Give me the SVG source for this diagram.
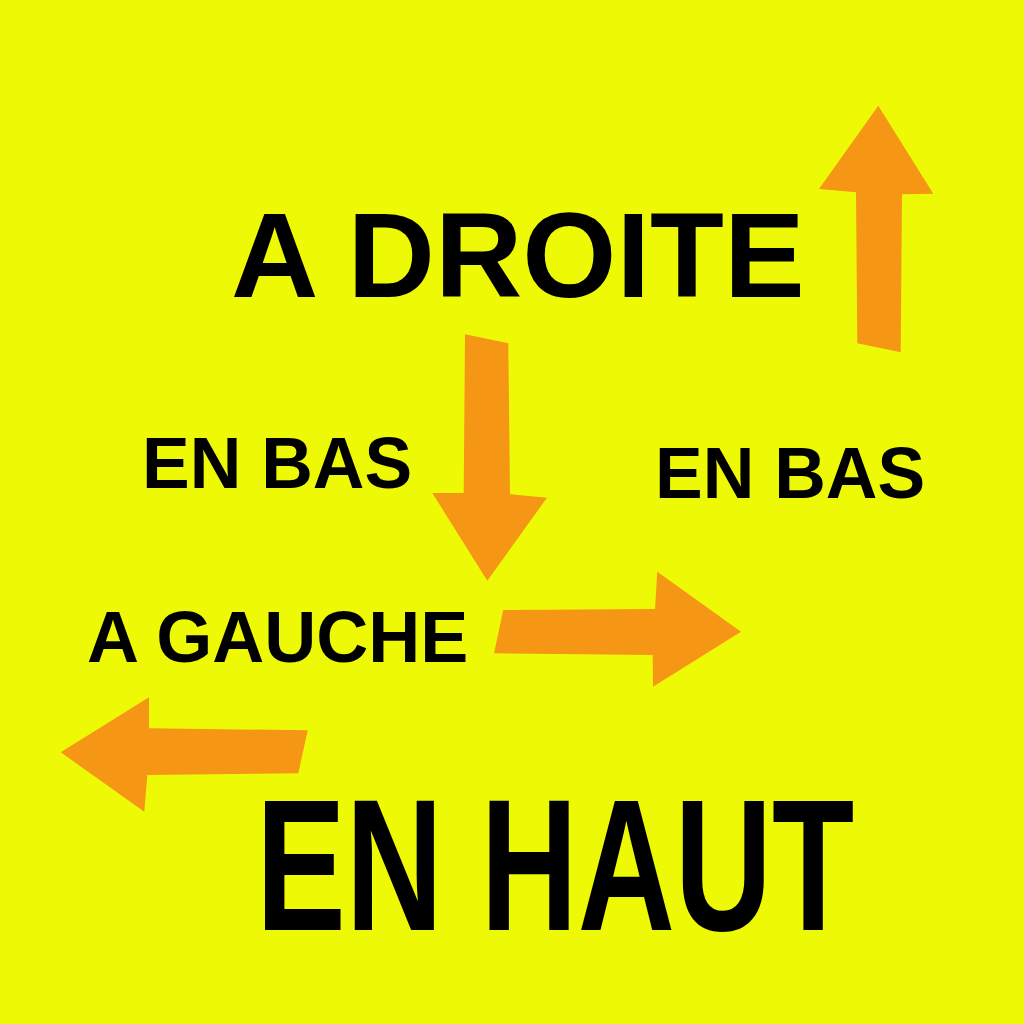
<svg xmlns="http://www.w3.org/2000/svg" width="1024" height="1024" viewBox="0 0 1024 1024">
  <defs>
    <style>
      .bg { fill: #EEF906; }
      .arrow { fill: #F59715; stroke: none; }
      .lbl { font-family: "Liberation Sans", Arial, sans-serif; font-weight: bold; fill: #000000; }
    </style>
  </defs>
  <rect class="bg" x="0" y="0" width="1024" height="1024"/>
  <g id="arrows">
    <polygon id="arrow-up" class="arrow" points="878.3,105.7 933.3,193.7 902,194.3 900.7,352.3 857.3,343.3 856,192.3 819,189"/>
    <polygon id="arrow-down" class="arrow" points="465,334.3 508.3,343.3 510,494.3 547,497.7 487.3,580.7 432.3,493 463.7,493"/>
    <polygon id="arrow-right" class="arrow" points="503.3,610 655,609 657.3,571.7 741,631.7 653,686.7 652.7,655 494,653.3"/>
    <polygon id="arrow-left" class="arrow" points="60.7,752.3 149,697.3 149,728.3 307.7,730.3 298.3,773.3 147.3,775 144.3,811.7"/>
  </g>
  <g id="label-a-droite">
    <text class="lbl" x="231" y="297" font-size="121">A DROITE</text>
  </g>
  <g id="label-en-bas-left">
    <text class="lbl" x="142" y="488" font-size="71.5">EN BAS</text>
  </g>
  <g id="label-en-bas-right">
    <text class="lbl" x="655" y="497.5" font-size="71.5">EN BAS</text>
  </g>
  <g id="label-a-gauche">
    <text class="lbl" x="87" y="661.5" font-size="72">A GAUCHE</text>
  </g>
  <g id="label-en-haut">
    <text class="lbl" transform="translate(256,930) scale(0.72,1)" x="0" y="0" font-size="187">EN HAUT</text>
  </g>
</svg>
